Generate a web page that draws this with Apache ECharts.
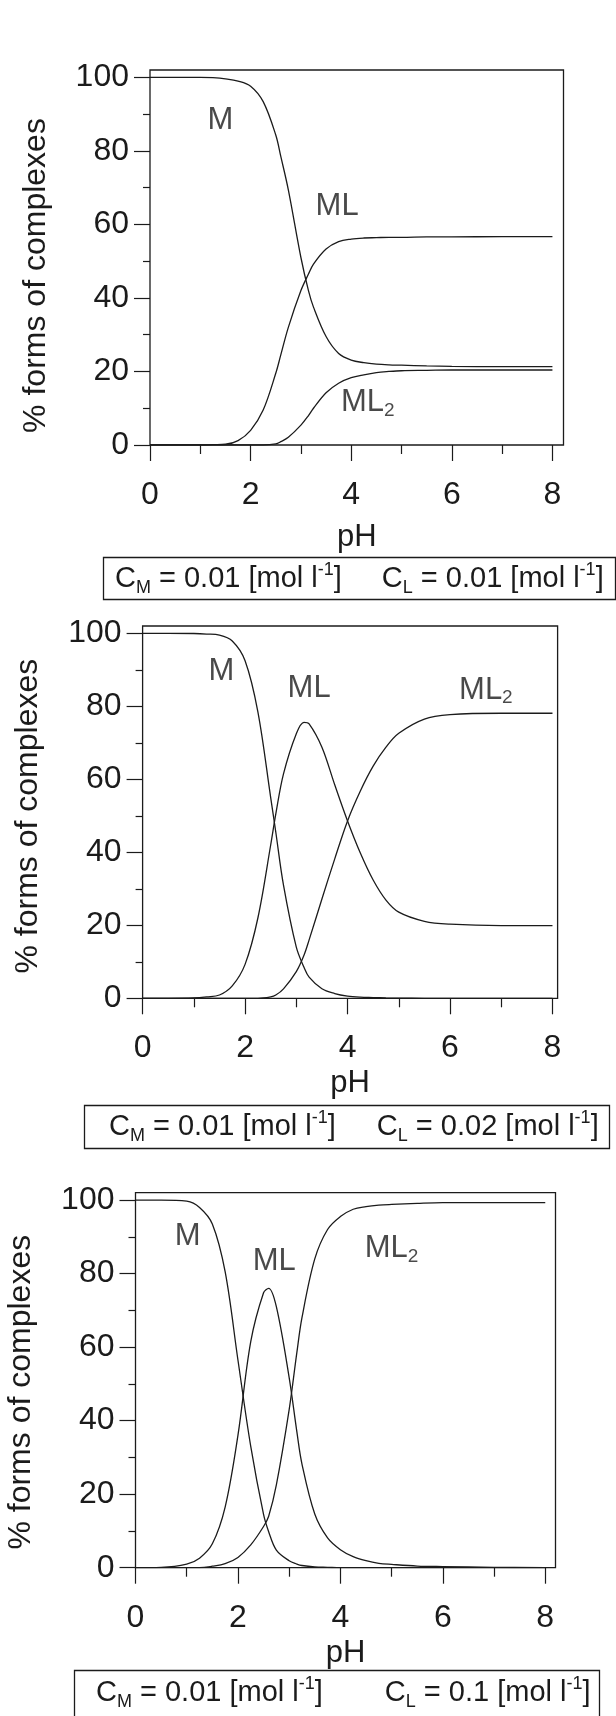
<!DOCTYPE html>
<html>
<head>
<meta charset="utf-8">
<script src="https://cdn.jsdelivr.net/npm/echarts@6/dist/echarts.min.js"></script>
<style>
html,body{margin:0;padding:0;background:#fff;}
#chart{width:616px;height:1716px;}
</style>
</head>
<body>
<div id="chart"></div>
<script>
// ---------- data ----------
const pH = [0, 0.5, 1, 1.25, 1.5, 1.75, 2, 2.25, 2.5, 2.6, 2.75, 3, 3.15, 3.25, 3.5, 3.75, 4, 4.25, 4.5, 4.75, 5, 5.5, 6, 7, 8];

// panel 1: CM = 0.01, CL = 0.01
const p1_M   = [100, 100, 100, 99.9, 99.6, 99.0, 97.6, 93.4, 84.3, 78.5, 69.4, 51.0, 42.0, 37.5, 29.5, 24.9, 23.1, 22.4, 22.0, 21.8, 21.7, 21.5, 21.4, 21.3, 21.3];
const p1_ML  = [0, 0, 0, 0.1, 0.2, 1.2, 4.0, 9.5, 19.5, 24.5, 32.0, 42.0, 46.5, 49.2, 53.3, 55.3, 56.0, 56.3, 56.4, 56.5, 56.5, 56.6, 56.6, 56.7, 56.7];
const p1_ML2 = [0, 0, 0, 0, 0, 0, 0, 0, 0.3, 0.9, 2.1, 5.4, 8.0, 10.0, 14.2, 16.8, 18.3, 19.1, 19.7, 20.0, 20.2, 20.3, 20.4, 20.4, 20.4];

// panel 2: CM = 0.01, CL = 0.02
const p2_M   = [100, 100, 99.95, 99.8, 99.5, 97.9, 92.5, 78.5, 55.0, 45.5, 31.0, 14.0, 8.5, 5.8, 2.6, 1.3, 0.6, 0.3, 0.2, 0.1, 0.05, 0, 0, 0, 0];
const p2_ML  = [0, 0, 0.1, 0.4, 0.9, 3.4, 9.3, 22.0, 42.0, 50.5, 61.5, 72.5, 75.6, 75.2, 68.8, 58.5, 48.6, 39.8, 32.4, 26.9, 23.6, 21.1, 20.3, 19.9, 19.9];
const p2_ML2 = [0, 0, 0, 0, 0, 0, 0, 0, 0.4, 0.9, 2.6, 7.3, 11.8, 16.0, 27.2, 38.2, 48.6, 56.8, 63.6, 68.8, 72.6, 76.5, 77.7, 78.1, 78.1];

// panel 3: CM = 0.01, CL = 0.1
const p3_M   = [100, 100, 99.7, 98.0, 93.5, 80.5, 56.5, 33.0, 14.5, 9.8, 4.8, 1.9, 1.0, 0.6, 0.2, 0.1, 0, 0, 0, 0, 0, 0, 0, 0, 0];
const p3_ML  = [0, 0.1, 1.0, 2.6, 6.5, 16.5, 36.0, 61.5, 74.8, 76.0, 71.0, 51.7, 37.0, 28.2, 14.6, 8.1, 4.9, 3.0, 1.9, 1.2, 0.9, 0.45, 0.3, 0.1, 0];
const p3_ML2 = [0, 0, 0, 0, 0.4, 1.1, 2.8, 6.2, 11.2, 14.0, 22.5, 43.0, 58.5, 68.0, 84.0, 92.0, 95.5, 97.5, 98.2, 98.6, 98.8, 99.1, 99.3, 99.3, 99.3];

const species = ['M', 'ML', 'ML2'];
const xMajorTicks = [0, 2, 4, 6, 8];
const xMinorTicks = [1, 3, 5, 7];
const yMajorTicks = [0, 20, 40, 60, 80, 100];
const yMinorTicks = [10, 30, 50, 70, 90];
const concM = ['0.01', '0.01', '0.01'];
const concL = ['0.01', '0.02', '0.1'];
const xTitle = 'pH';
const yTitle = '% forms of complexes';

// label anchor points (data coordinates) for M, ML, ML2 in each panel
const labelAt1 = [[1.40, 88.4], [3.72, 64.8], [4.33, 11.6]];
const labelAt2 = [[1.54, 89.5], [3.25, 84.9], [6.70, 84.4]];
const labelAt3 = [[1.02, 90.0], [2.71, 83.2], [5.00, 86.7]];

// ---------- layout / style ----------
const FONT = "'Liberation Sans', Arial, Helvetica, sans-serif";
const INK = '#1b1b1b';
const panels = [
  { grid: {left: 150, top: 70, width: 413.5, height: 375}, xMax: 8.22, nameGap: 77, yNamePad: 36,
    curves: [p1_M, p1_ML, p1_ML2], labelAt: labelAt1,
    box: {left: 103, top: 557, padding: [4, 12, 3, 12]}, gap: 40 },
  { grid: {left: 142.6, top: 626, width: 415, height: 372.3}, xMax: 8.1, nameGap: 70, yNamePad: 8,
    curves: [p2_M, p2_ML, p2_ML2], labelAt: labelAt2,
    box: {left: 84, top: 1105, padding: [4, 11, 4, 25]}, gap: 41 },
  { grid: {left: 135.5, top: 1192.7, width: 420, height: 375}, xMax: 8.2, nameGap: 70, yNamePad: 24,
    curves: [p3_M, p3_ML, p3_ML2], labelAt: labelAt3,
    box: {left: 74, top: 1670, padding: [5, 9, 20, 22]}, gap: 62 }
];

function captionText(cm, cl) {
  return '{t|C}{sub|M}{t| = ' + cm + ' [mol l}{sup|-1}{t|]}{g| }{t|C}{sub|L}{t| = ' + cl + ' [mol l}{sup|-1}{t|]}';
}

const grids = [], xAxes = [], yAxes = [], series = [], titles = [];
const tickLine = {color: INK, width: 1.2};
const labelBase = {color: INK, fontFamily: FONT, fontSize: 32};

panels.forEach((p, i) => {
  grids.push(Object.assign({
    show: true, borderColor: INK, borderWidth: 1.3, backgroundColor: 'transparent',
    containLabel: false, outerBoundsMode: 'none'
  }, p.grid));

  // main x axis
  xAxes.push({
    gridIndex: i, type: 'value', position: 'bottom', min: 0, max: p.xMax,
    axisLine: {show: false, onZero: false},
    splitLine: {show: false},
    axisTick: {show: true, inside: false, length: 16, lineStyle: tickLine, customValues: xMajorTicks},
    axisLabel: Object.assign({show: true, margin: 34, customValues: xMajorTicks}, labelBase),
    name: xTitle, nameLocation: 'middle', nameGap: p.nameGap,
    nameTextStyle: {color: INK, fontFamily: FONT, fontSize: 31}
  });
  // minor x ticks
  xAxes.push({
    gridIndex: i, type: 'value', position: 'bottom', offset: 0, min: 0, max: p.xMax,
    axisLine: {show: false, onZero: false},
    splitLine: {show: false},
    axisTick: {show: true, inside: false, length: 9, lineStyle: tickLine, customValues: xMinorTicks},
    axisLabel: {show: false}
  });
  // main y axis
  yAxes.push({
    gridIndex: i, type: 'value', position: 'left', min: 0, max: 102,
    axisLine: {show: false, onZero: false},
    splitLine: {show: false},
    axisTick: {show: true, inside: false, length: 16, lineStyle: tickLine, customValues: yMajorTicks},
    axisLabel: Object.assign({show: true, margin: 21, customValues: yMajorTicks}, labelBase),
    name: yTitle, nameLocation: 'middle', nameRotate: 90, nameGap: 98,
    nameTextStyle: {color: INK, fontFamily: FONT, fontSize: 32, padding: [0, p.yNamePad, 0, 0]}
  });
  // minor y ticks
  yAxes.push({
    gridIndex: i, type: 'value', position: 'left', offset: 0, min: 0, max: 102,
    axisLine: {show: false, onZero: false},
    splitLine: {show: false},
    axisTick: {show: true, inside: false, length: 7, lineStyle: tickLine, customValues: yMinorTicks},
    axisLabel: {show: false}
  });

  p.curves.forEach((vals, k) => {
    series.push({
      type: 'line', name: species[k] + '_' + (i + 1),
      xAxisIndex: 2 * i, yAxisIndex: 2 * i,
      data: pH.map((x, j) => [x, vals[j]]),
      showSymbol: false, smooth: 0.35,
      lineStyle: {color: INK, width: 1.3},
      silent: true, z: 3
    });
  });

  series.push({
    type: 'scatter', xAxisIndex: 2 * i, yAxisIndex: 2 * i,
    symbolSize: 0, silent: true, z: 4,
    data: species.map((s, k) => ({name: s, value: p.labelAt[k]})),
    label: {
      show: true, position: 'inside',
      formatter: (d) => d.name === 'ML2' ? '{n|ML}{s|2}' : '{n|' + d.name + '}',
      rich: {
        n: {fontSize: 31, lineHeight: 35, color: INK, fontFamily: FONT},
        s: {fontSize: 19, lineHeight: 19, color: INK, fontFamily: FONT, verticalAlign: 'bottom'}
      }
    }
  });

  titles.push({
    left: p.box.left, top: p.box.top, padding: p.box.padding,
    borderColor: INK, borderWidth: 1.3, backgroundColor: '#fff',
    text: captionText(concM[i], concL[i]),
    textStyle: {
      color: INK, fontFamily: FONT, fontSize: 29, fontWeight: 'normal',
      rich: {
        t: {fontSize: 29, lineHeight: 36, color: INK, fontFamily: FONT},
        sub: {fontSize: 18, lineHeight: 18, color: INK, fontFamily: FONT, verticalAlign: 'bottom'},
        sup: {fontSize: 18, lineHeight: 18, color: INK, fontFamily: FONT, verticalAlign: 'top'},
        g: {width: p.gap, fontSize: 29, lineHeight: 36}
      }
    }
  });
});

const chart = echarts.init(document.getElementById('chart'), null, {renderer: 'canvas'});
chart.setOption({
  backgroundColor: '#fff',
  animation: false,
  title: titles,
  grid: grids,
  xAxis: xAxes,
  yAxis: yAxes,
  series: series
});
</script>
</body>
</html>
